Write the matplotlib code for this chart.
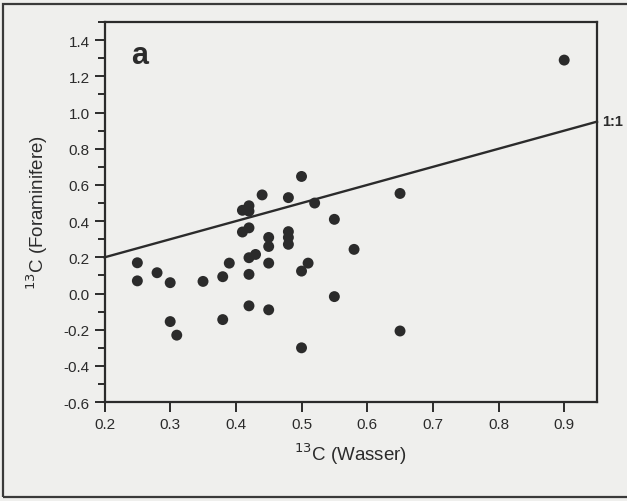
import matplotlib

matplotlib.use("agg")
import matplotlib.pyplot as plt
from matplotlib.patches import Rectangle
from matplotlib.ticker import MultipleLocator

plt.rcParams["font.family"] = ["Liberation Sans", "DejaVu Sans"]

# d13C values
wasser = [0.25, 0.25, 0.28, 0.30, 0.30, 0.31, 0.35, 0.38, 0.38, 0.39,
          0.41, 0.42, 0.42, 0.41, 0.42, 0.42, 0.43, 0.42, 0.42, 0.44,
          0.45, 0.45, 0.45, 0.45, 0.48, 0.48, 0.48, 0.48, 0.50, 0.50,
          0.51, 0.50, 0.52, 0.55, 0.55, 0.58, 0.65, 0.65, 0.90]
foram = [0.17, 0.07, 0.115, 0.06, -0.155, -0.23, 0.067, 0.093, -0.144, 0.168,
         0.46, 0.485, 0.455, 0.34, 0.363, 0.198, 0.216, 0.106, -0.068, 0.545,
         0.31, 0.26, 0.168, -0.09, 0.53, 0.342, 0.31, 0.272, 0.647, 0.124,
         0.168, -0.30, 0.50, 0.41, -0.017, 0.244, 0.553, -0.207, 1.29]
one_to_one = [0.2, 0.95]

x_ticks = [0.2, 0.3, 0.4, 0.5, 0.6, 0.7, 0.8, 0.9]
y_ticks = [-0.6, -0.4, -0.2, 0.0, 0.2, 0.4, 0.6, 0.8, 1.0, 1.2, 1.4]

bg = "#efefed"
ink = "#2b2b2b"

fig = plt.figure(figsize=(6.27, 5.02), dpi=100, facecolor=bg)
ax = fig.add_axes([0.1667, 0.197, 0.7855, 0.757])
ax.set_facecolor(bg)

# page frame of the scan (right side runs off the image)
fig.patches.append(Rectangle((0.005, 0.008), 1.2, 0.982, transform=fig.transFigure,
                             fill=False, edgecolor="#3a3a3a", linewidth=1.6))

ax.plot(one_to_one, one_to_one, color=ink, linewidth=1.7, clip_on=False, zorder=2)
ax.scatter(wasser, foram, s=62, color=ink, edgecolors="none", zorder=3)

ax.set_xlim(0.2, 0.95)
ax.set_ylim(-0.6, 1.5)
ax.set_xticks(x_ticks)
ax.set_xticklabels([f"{v:.1f}" for v in x_ticks])
ax.set_yticks(y_ticks)
ax.set_yticklabels([f"{v:.1f}" for v in y_ticks])
ax.yaxis.set_minor_locator(MultipleLocator(0.1))

for side in ax.spines.values():
    side.set_linewidth(1.6)
    side.set_color(ink)
ax.tick_params(axis="both", which="major", direction="out", length=7, width=1.4,
               colors=ink, labelsize=11)
ax.tick_params(axis="y", which="minor", direction="out", length=5, width=1.4, colors=ink)

ax.set_xlabel("$^{13}$C (Wasser)", fontsize=13.5, color=ink, labelpad=7)
ax.set_ylabel("$^{13}$C (Foraminifere)", fontsize=13.5, color=ink, labelpad=10)

ax.text(0.253, 1.32, "a", fontsize=22, fontweight="bold", color=ink,
        ha="center", va="center")
ax.text(0.957, 0.955, "1:1", fontsize=10.5, fontweight="bold", color=ink,
        ha="left", va="center", clip_on=False)

fig.savefig("out.png", dpi=100, facecolor=bg)
